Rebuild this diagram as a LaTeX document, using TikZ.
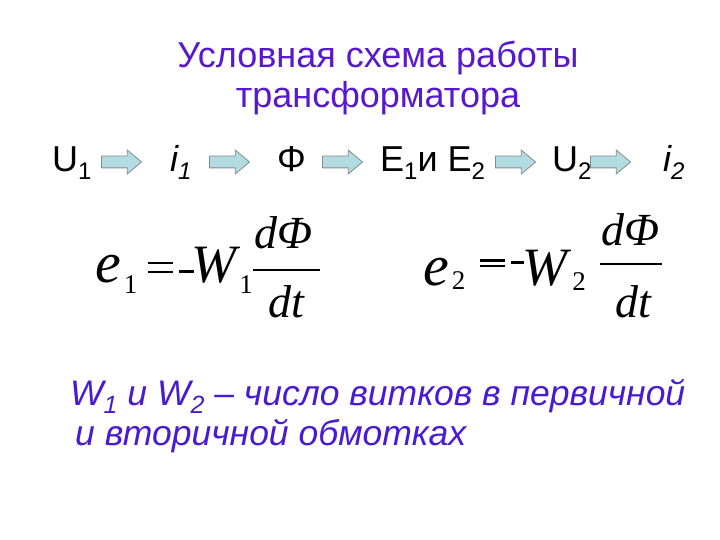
\documentclass[tikz,border=0pt]{standalone}
\usepackage{fontspec}
\setmainfont{Liberation Sans}
\newfontfamily\tms{Liberation Serif}
\usetikzlibrary{shapes.arrows}
\definecolor{titlepurple}{RGB}{88,24,206}
\definecolor{notepurple}{RGB}{72,26,214}
\definecolor{arrowfill}{RGB}{178,220,226}
\definecolor{arrowline}{RGB}{128,140,142}
\newcommand\rsub[1]{\raisebox{-8pt}{\fontsize{24}{24}\selectfont #1}}
\newcommand\nsub[1]{\raisebox{-8pt}{\fontsize{25}{25}\selectfont #1}}
\newcommand\esub[2]{\raisebox{-#1pt}{\fontsize{27}{27}\selectfont\upshape #2}}
\newcommand\bige{{\fontsize{58}{60}\selectfont e}}
\newcommand\eqsign[2]{\rlap{\rule[#1pt]{25pt}{2.6pt}}\rule[#2pt]{25pt}{2.6pt}}
\newcommand\minussign[2]{\rule[#1pt]{#2pt}{2.6pt}}
\tikzset{
  heading/.style={anchor=base, inner sep=0pt, text=titlepurple, font=\fontsize{36}{40}\selectfont},
  qty/.style={anchor=base west, inner sep=0pt, font=\fontsize{36}{40}\selectfont},
  flow/.style={single arrow, draw=arrowline, fill=arrowfill, line width=0.8pt,
    minimum height=40pt, inner xsep=0pt, inner ysep=5.5pt,
    single arrow head extend=6pt, single arrow tip angle=80, anchor=center},
  eq/.style={anchor=base west, inner sep=0pt, font=\tms\fontsize{54}{60}\selectfont},
  frac/.style={anchor=base, inner sep=0pt, font=\tms\itshape\fontsize{46}{50}\selectfont},
  fracbar/.style={line width=2.2pt},
  note/.style={anchor=base west, inner sep=0pt, text=notepurple, font=\fontsize{35.5}{40}\selectfont\itshape}
}
\begin{document}
\begin{tikzpicture}[x=1pt,y=-1pt]
  \useasboundingbox[fill=white] (0,0) rectangle (720,540);
  % title
  \node[heading] (title1) at (378,68) {Условная схема работы};
  \node[heading] (title2) at (378,108) {трансформатора};
  % chain of quantities
  \node[qty] (u1) at (52,172) {U\rsub{1}};
  \node[flow] (a1) at (118,162) {};
  \node[qty] (i1) at (170,172) {\itshape i\rsub{1}};
  \node[flow] (a2) at (226,162) {};
  \node[qty] (phi) at (277,172) {Φ};
  \node[flow] (a3) at (339,162) {};
  \node[qty] (e12) at (380,172) {E\rsub{1}и E\rsub{2}};
  \node[flow] (a4) at (512,162) {};
  \node[qty] (u2) at (552,172) {U\rsub{2}};
  \node[flow] (a5) at (607,162) {};
  \node[qty] (i2) at (663,172) {\itshape i\rsub{2}};
  % emf of the primary winding
  \node[eq] (lhs1) at (95,282) {\itshape\bige\kern3pt\esub{11}{1}\kern11pt\eqsign{17.7}{8.7}\kern6pt\minussign{9.5}{15}\kern-3pt W\kern3pt\esub{11}{1}};
  \node[frac] (num1) at (283.5,248) {dΦ};
  \node[frac] (den1) at (286.5,317) {dt};
  \draw[fracbar] (253,270) -- (320,270);
  % emf of the secondary winding
  \node[eq] (lhs2) at (423,285) {\itshape\bige\kern3pt\esub{4}{2}\kern15pt\eqsign{23}{17.7}\kern6pt\minussign{21}{13}\kern-2pt W\kern5pt\esub{5}{2}};
  \node[frac] (num2) at (631,245) {dΦ};
  \node[frac] (den2) at (633.5,317) {dt};
  \draw[fracbar] (600,264) -- (662,264);
  % note
  \node[note] (note1) at (70,405) {W\nsub{1} и W\nsub{2} – число витков в первичной};
  \node[note] (note2) at (75,445) {и вторичной обмотках};
\end{tikzpicture}
\end{document}
